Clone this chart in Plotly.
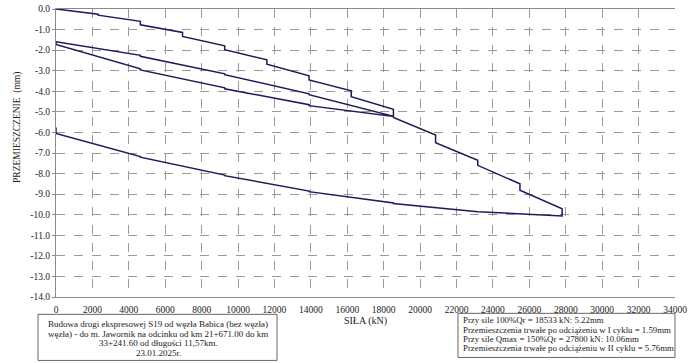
import plotly.graph_objects as go

# Load path (kN) and displacement (mm), in test order
sila = [0, 2317, 2317, 4633, 4633, 6950, 6950, 9266, 9266, 11583, 11583,
        13900, 13900, 16216, 16216, 18533, 18533,
        # unloading, cycle I
        13900, 13900, 9266, 9266, 4633, 4633, 0, 0,
        # reloading, cycle II
        4633, 4633, 9266, 9266, 13900, 13900, 18533, 18533,
        20850, 20850, 23166, 23166, 25483, 25483, 27800, 27800,
        # unloading, cycle II
        23166, 23166, 18533, 18533, 13900, 13900, 9266, 9266, 4633, 4633, 0, 0]
przem = [0.0, -0.25, -0.30, -0.60, -0.77, -1.14, -1.33, -1.79, -1.98, -2.47, -2.68,
         -3.25, -3.45, -3.98, -4.26, -4.88, -5.22,
         -4.70, -4.65, -3.88, -3.83, -2.96, -2.91, -1.72, -1.59,
         -2.25, -2.30, -3.15, -3.19, -4.12, -4.17, -5.22, -5.27,
         -6.13, -6.50, -7.35, -7.60, -8.50, -8.81, -9.71, -10.06,
         -9.87, -9.85, -9.46, -9.43, -8.88, -8.85, -8.10, -8.07, -7.20, -7.17, -6.05, -5.76]

x_ticks = list(range(0, 34001, 2000))
y_ticks = [float(v) for v in range(0, -15, -1)]
y_labels = [f"{v:.1f}" for v in y_ticks]

left_box = ["Budowa drogi ekspresowej S19 od węzła Babica (bez węzła)",
            "węzła) - do m. Jawornik na odcinku od km 21+671.00 do km",
            "33+241.60 od długości 11,57km.",
            "23.01.2025r."]
right_box = ["Przy sile 100%Qr = 18533 kN: 5.22mm",
             "Przemieszczenia trwałe po odciążeniu w I cyklu = 1.59mm",
             "Przy sile Qmax = 150%Qr = 27800 kN: 10.06mm",
             "Przemieszczenia trwałe po odciążeniu w II cyklu = 5.76mm"]

FONT = "Liberation Serif"
L, R, T, B = 56, 675, 9.3, 296.7   # plot area in page pixels
W, H = 697, 363
pw, ph = R - L, B - T

def px(x):
    return (x - L) / pw

def py(y):
    return (B - y) / ph

fig = go.Figure()
fig.add_trace(go.Scatter(x=sila, y=przem, mode="lines",
                         line=dict(color="#1c1c5c", width=1.5),
                         showlegend=False, hoverinfo="skip"))

common = dict(showgrid=True, gridcolor="#9a9a9a", griddash="dash", gridwidth=1,
              zeroline=False, showline=True, linecolor="#8a8a8a", linewidth=1,
              automargin=False, ticklabeloverflow="allow",
              tickfont=dict(family=FONT, size=9.5, color="#222"))

fig.update_xaxes(range=[0, 34000], tickvals=x_ticks, ticktext=[str(v) for v in x_ticks],
                 ticks="", ticklabelstandoff=4,
                 title=dict(text="SIŁA (kN)", font=dict(family=FONT, size=10, color="#222"), standoff=2),
                 mirror=True, **common)
fig.update_yaxes(range=[-14, 0], tickvals=y_ticks, ticktext=y_labels,
                 ticks="outside", ticklen=3, tickcolor="#8a8a8a", **common)

shapes = []
shapes.append(dict(type="rect", xref="paper", yref="paper",
                   x0=px(38), x1=px(277), y0=py(360), y1=py(314),
                   line=dict(color="#666", width=1)))
shapes.append(dict(type="rect", xref="paper", yref="paper",
                   x0=px(458), x1=px(675), y0=py(357), y1=py(313),
                   line=dict(color="#666", width=1)))
fig.update_layout(shapes=shapes)

ann = []
ann.append(dict(text="PRZEMIESZCZENIE  (mm)", xref="paper", yref="paper",
                x=px(18), y=py(128), xanchor="center", yanchor="middle", textangle=-90,
                showarrow=False, font=dict(family=FONT, size=9.5, color="#222")))
for text, yy in zip(left_box, [324, 333.5, 342.5, 353]):
    ann.append(dict(text=text, xref="paper", yref="paper", x=px(158), y=py(yy),
                    xanchor="center", yanchor="middle", showarrow=False,
                    font=dict(family=FONT, size=9, color="#222")))
for text, yy in zip(right_box, [320, 329.5, 338.5, 347.5]):
    ann.append(dict(text=text, xref="paper", yref="paper", x=px(461), y=py(yy),
                    xanchor="left", yanchor="middle", showarrow=False,
                    font=dict(family=FONT, size=8.8, color="#222")))
fig.update_layout(annotations=ann)

fig.update_layout(width=W, height=H,
                  margin=dict(l=L, r=W - R, t=T, b=H - B, pad=0),
                  plot_bgcolor="white", paper_bgcolor="white")

fig.write_html("out.html", config={"displayModeBar": False, "staticPlot": True},
               post_script="document.body.style.margin='0';document.body.style.overflow='hidden';")
